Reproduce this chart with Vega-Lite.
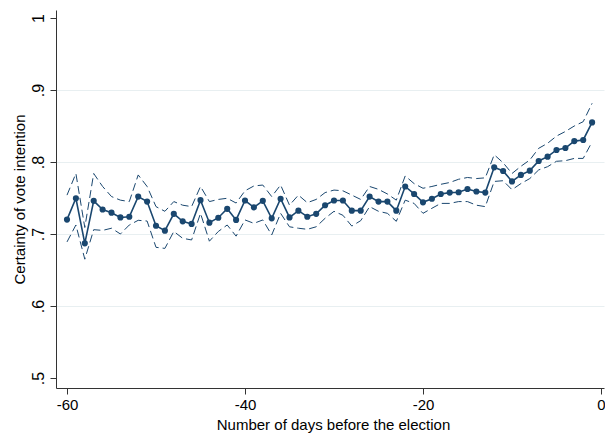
{
  "$schema": "https://vega.github.io/schema/vega-lite/v6.json",
  "autosize": "none",
  "width": 548,
  "height": 378,
  "padding": {"left": 56, "top": 10, "right": 1, "bottom": 46},
  "background": "white",
  "config": {
    "view": {"stroke": null},
    "font": "Liberation Sans",
    "axis": {
      "labelFont": "Liberation Sans",
      "titleFont": "Liberation Sans",
      "labelFontSize": 15,
      "titleFontSize": 15,
      "titleFontWeight": "normal",
      "labelColor": "#000",
      "titleColor": "#000",
      "domainColor": "#333",
      "tickColor": "#333",
      "domainWidth": 1,
      "tickWidth": 1,
      "tickSize": 6
    }
  },
  "data": {
    "values": [
      {"day": -60, "mean": 0.720, "lo": 0.689, "hi": 0.754},
      {"day": -59, "mean": 0.7496, "lo": 0.7125, "hi": 0.784},
      {"day": -58, "mean": 0.687, "lo": 0.665, "hi": 0.709},
      {"day": -57, "mean": 0.746, "lo": 0.706, "hi": 0.784},
      {"day": -56, "mean": 0.734, "lo": 0.705, "hi": 0.766},
      {"day": -55, "mean": 0.7296, "lo": 0.708, "hi": 0.752},
      {"day": -54, "mean": 0.723, "lo": 0.700, "hi": 0.747},
      {"day": -53, "mean": 0.724, "lo": 0.7125, "hi": 0.745},
      {"day": -52, "mean": 0.752, "lo": 0.719, "hi": 0.782},
      {"day": -51, "mean": 0.745, "lo": 0.718, "hi": 0.766},
      {"day": -50, "mean": 0.7115, "lo": 0.6815, "hi": 0.738},
      {"day": -49, "mean": 0.7046, "lo": 0.680, "hi": 0.7315},
      {"day": -48, "mean": 0.728, "lo": 0.7035, "hi": 0.745},
      {"day": -47, "mean": 0.7176, "lo": 0.694, "hi": 0.740},
      {"day": -46, "mean": 0.714, "lo": 0.6917, "hi": 0.738},
      {"day": -45, "mean": 0.747, "lo": 0.7287, "hi": 0.766},
      {"day": -44, "mean": 0.7157, "lo": 0.690, "hi": 0.745},
      {"day": -43, "mean": 0.7226, "lo": 0.7035, "hi": 0.748},
      {"day": -42, "mean": 0.735, "lo": 0.7125, "hi": 0.7496},
      {"day": -41, "mean": 0.7195, "lo": 0.697, "hi": 0.743},
      {"day": -40, "mean": 0.7465, "lo": 0.7195, "hi": 0.760},
      {"day": -39, "mean": 0.737, "lo": 0.7148, "hi": 0.7667},
      {"day": -38, "mean": 0.746, "lo": 0.7195, "hi": 0.768},
      {"day": -37, "mean": 0.7218, "lo": 0.6986, "hi": 0.752},
      {"day": -36, "mean": 0.749, "lo": 0.7287, "hi": 0.768},
      {"day": -35, "mean": 0.723, "lo": 0.710, "hi": 0.740},
      {"day": -34, "mean": 0.7324, "lo": 0.708, "hi": 0.754},
      {"day": -33, "mean": 0.724, "lo": 0.7065, "hi": 0.7435},
      {"day": -32, "mean": 0.728, "lo": 0.710, "hi": 0.748},
      {"day": -31, "mean": 0.7399, "lo": 0.7218, "hi": 0.7575},
      {"day": -30, "mean": 0.7465, "lo": 0.7315, "hi": 0.761},
      {"day": -29, "mean": 0.7465, "lo": 0.726, "hi": 0.760},
      {"day": -28, "mean": 0.7324, "lo": 0.711, "hi": 0.754},
      {"day": -27, "mean": 0.7324, "lo": 0.7185, "hi": 0.748},
      {"day": -26, "mean": 0.752, "lo": 0.738, "hi": 0.766},
      {"day": -25, "mean": 0.745, "lo": 0.7315, "hi": 0.762},
      {"day": -24, "mean": 0.745, "lo": 0.7287, "hi": 0.7556},
      {"day": -23, "mean": 0.7324, "lo": 0.7176, "hi": 0.747},
      {"day": -22, "mean": 0.766, "lo": 0.747, "hi": 0.7806},
      {"day": -21, "mean": 0.7556, "lo": 0.7425, "hi": 0.770},
      {"day": -20, "mean": 0.744, "lo": 0.7287, "hi": 0.7635},
      {"day": -19, "mean": 0.749, "lo": 0.7357, "hi": 0.766},
      {"day": -18, "mean": 0.7556, "lo": 0.7425, "hi": 0.769},
      {"day": -17, "mean": 0.7575, "lo": 0.7425, "hi": 0.7715},
      {"day": -16, "mean": 0.758, "lo": 0.745, "hi": 0.776},
      {"day": -15, "mean": 0.7625, "lo": 0.745, "hi": 0.7785},
      {"day": -14, "mean": 0.759, "lo": 0.740, "hi": 0.777},
      {"day": -13, "mean": 0.7575, "lo": 0.738, "hi": 0.778},
      {"day": -12, "mean": 0.7926, "lo": 0.773, "hi": 0.810},
      {"day": -11, "mean": 0.7875, "lo": 0.774, "hi": 0.799},
      {"day": -10, "mean": 0.773, "lo": 0.7615, "hi": 0.784},
      {"day": -9, "mean": 0.782, "lo": 0.770, "hi": 0.794},
      {"day": -8, "mean": 0.788, "lo": 0.777, "hi": 0.8028},
      {"day": -7, "mean": 0.8014, "lo": 0.789, "hi": 0.819},
      {"day": -6, "mean": 0.8074, "lo": 0.7935, "hi": 0.826},
      {"day": -5, "mean": 0.8167, "lo": 0.801, "hi": 0.836},
      {"day": -4, "mean": 0.8194, "lo": 0.8018, "hi": 0.8424},
      {"day": -3, "mean": 0.829, "lo": 0.805, "hi": 0.85},
      {"day": -2, "mean": 0.8306, "lo": 0.805, "hi": 0.856},
      {"day": -1, "mean": 0.855, "lo": 0.828, "hi": 0.8815}
    ]
  },
  "encoding": {
    "x": {
      "field": "day",
      "type": "quantitative",
      "scale": {"domain": [-61.236, 0.337], "nice": false, "zero": false},
      "axis": {
        "title": "Number of days before the election",
        "values": [-60, -40, -20, 0],
        "labelExpr": "'' + datum.value",
        "grid": false,
        "labelPadding": 3,
        "labelFlush": false,
        "titleX": 277,
        "titleY": 36,
        "titleAlign": "center",
        "titleBaseline": "middle"
      }
    }
  },
  "layer": [
    {
      "mark": {"type": "line", "color": "#1a476f", "strokeWidth": 1, "strokeDash": [8, 4]},
      "encoding": {
        "y": {
          "field": "lo",
          "type": "quantitative",
          "scale": {"domain": [0.4861, 1.0111], "nice": false, "zero": false},
          "axis": {
            "title": "Certainty of vote intention",
            "values": [0.5, 0.6, 0.7, 0.8, 0.9, 1],
            "labelExpr": "datum.value == 1 ? '1' : replace(format(datum.value, '.1f'), '0.', '.')",
            "labelAngle": 270,
            "labelAlign": "center",
            "labelBaseline": "bottom",
            "labelPadding": 4,
            "labelFontSize": 16,
            "labelFlush": false,
            "grid": true,
            "gridColor": {"condition": {"test": "datum.value == 1 || datum.value == 0.5", "value": "transparent"}, "value": "#e8eff1"},
            "gridWidth": 1,
            "titleAngle": 270,
            "titleX": -37,
            "titleY": 189,
            "titleAlign": "center",
            "titleBaseline": "middle"
          }
        }
      }
    },
    {
      "mark": {"type": "line", "color": "#1a476f", "strokeWidth": 1, "strokeDash": [8, 4]},
      "encoding": {"y": {"field": "hi", "type": "quantitative"}}
    },
    {
      "mark": {"type": "line", "color": "#1a476f", "strokeWidth": 1.6},
      "encoding": {"y": {"field": "mean", "type": "quantitative"}}
    },
    {
      "mark": {"type": "point", "filled": true, "shape": "circle", "color": "#1a476f", "size": 38, "opacity": 1},
      "encoding": {"y": {"field": "mean", "type": "quantitative"}}
    }
  ]
}
